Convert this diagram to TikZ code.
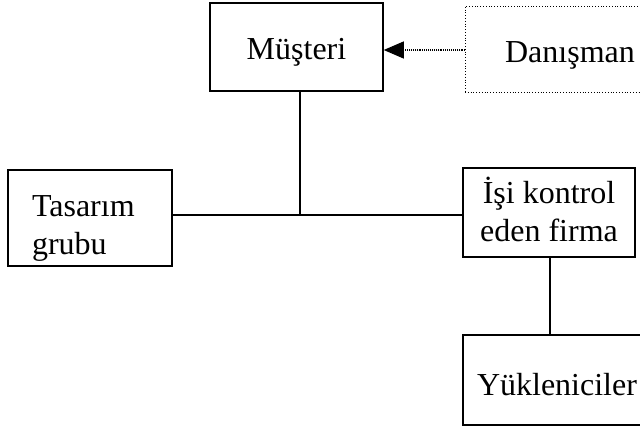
\documentclass[tikz,border=0pt]{standalone}
\usepackage{fontspec}
\setmainfont{Liberation Serif}
\usetikzlibrary{arrows.meta}
% shift a box's ink downwards while keeping its size as seen by the node
\newcommand{\lowerby}[2]{\raisebox{-#1}[\height][\depth]{#2}}
\begin{document}
\begin{tikzpicture}[x=1pt,y=-1pt,
  box/.style={draw,line width=1.5pt,rectangle,inner sep=0pt,
    font=\fontsize{32}{38}\selectfont},
  faint/.style={draw,line width=0.8pt,dotted,rectangle,inner sep=0pt,
    font=\fontsize{32}{38}\selectfont},
  link/.style={line width=1.5pt},
  hint/.style={line width=1.1pt,densely dotted,
    -{Triangle[length=20pt,width=17pt]}}]
\useasboundingbox (0,0) rectangle (640,434);
% upper row
\node[box,minimum width=173pt,minimum height=88pt] (mus) at (296.5,47)
  {\lowerby{5pt}{Müşteri}};
\node[faint,minimum width=210pt,minimum height=86pt] (dan) at (570,49)
  {\lowerby{6pt}{Danışman}};
% middle row
\node[box,minimum width=164pt,minimum height=96pt] (tas) at (90,218)
  {\lowerby{10pt}{\makebox[116pt][l]{\begin{tabular}{@{}l@{}}Tasarım\\grubu\end{tabular}}}};
\node[box,minimum width=172pt,minimum height=89pt] (isi) at (549,212.5)
  {\lowerby{2pt}{\begin{tabular}{@{}c@{}}İşi kontrol\\eden firma\end{tabular}}};
% lower row
\node[box,minimum width=188pt,minimum height=90pt] (yuk) at (557,380)
  {\lowerby{5pt}{Yükleniciler}};
% connectors
\coordinate (j) at (300,215);
\draw[hint] (dan.west |- 0,50) -- (mus.east |- 0,50);
\draw[link] (j |- mus.south) -- (j);
\draw[link] (tas.east |- j) -- (isi.west |- j);
\draw[link] (550,0 |- isi.south) -- (550,0 |- yuk.north);
\end{tikzpicture}
\end{document}
